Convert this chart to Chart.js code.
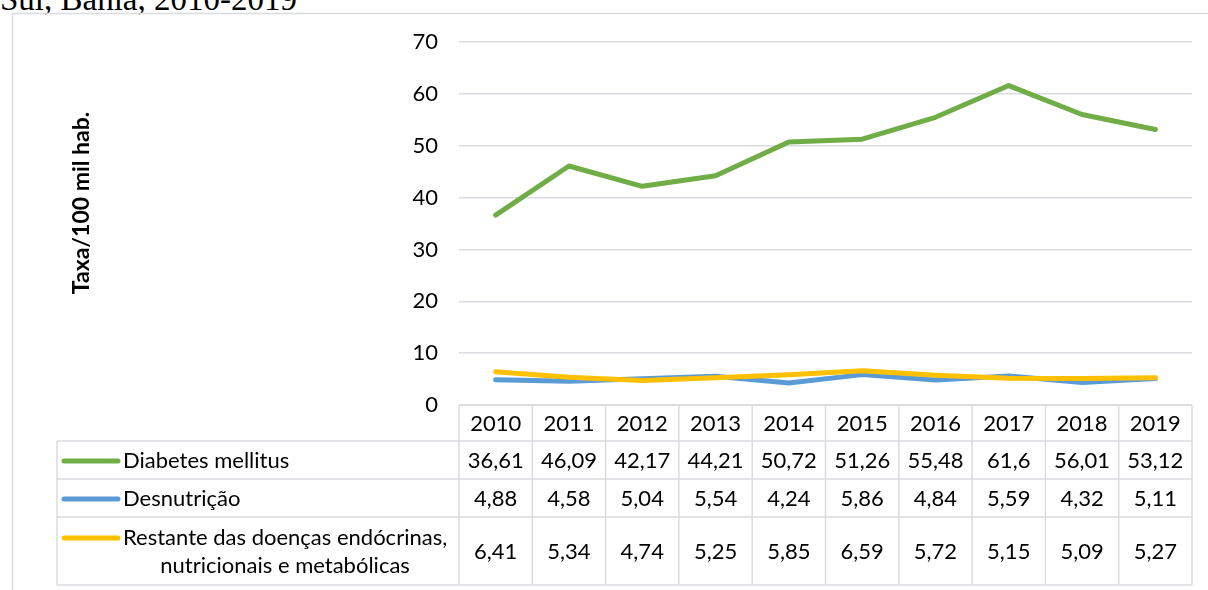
<!DOCTYPE html>
<html>
<head>
<meta charset="utf-8">
<script src="https://cdn.jsdelivr.net/npm/chart.js@4/dist/chart.umd.min.js"></script>
<style>
  html,body{margin:0;padding:0;background:#fff;overflow:hidden}
  #wrap{position:relative;width:1208px;height:590px}
  #topTitle{position:absolute;left:0;top:-17px;font:33px "Liberation Serif",serif;color:#000;white-space:nowrap;line-height:33px}
  canvas{position:absolute;left:0;top:0}
</style>
</head>
<body>
<div id="wrap">
  <div id="topTitle">Sul, Bahia, 2010-2019</div>
  <canvas id="chart" width="1208" height="590"></canvas>
</div>
<script>
const years = ['2010','2011','2012','2013','2014','2015','2016','2017','2018','2019'];
const diabetes = [36.61,46.09,42.17,44.21,50.72,51.26,55.48,61.6,56.01,53.12];
const desnutricao = [4.88,4.58,5.04,5.54,4.24,5.86,4.84,5.59,4.32,5.11];
const restante = [6.41,5.34,4.74,5.25,5.85,6.59,5.72,5.15,5.09,5.27];
const seriesNames = ['Diabetes mellitus','Desnutrição',['Restante das doenças endócrinas,','nutricionais e metabólicas']];
const seriesColors = ['#70ad47','#5b9bd5','#ffc000'];
const yMin = 0, yMax = 70, yStep = 10;
const yTitle = 'Taxa/100 mil hab.';

const FONT = 'Lato, "Open Sans", sans-serif';
const gridColor = '#d9dce1';

// frame, y title and data table under the plot (columns from the x scale)
const tablePlugin = {
  id:'dataTable',
  beforeDraw(chart){
    const c = chart.ctx;
    c.save();
    c.strokeStyle = gridColor;
    c.lineWidth = 1.5;
    c.strokeRect(12.5,13.5,1300,700);
    c.translate(82, 203);
    c.rotate(-Math.PI/2);
    c.fillStyle = '#000';
    c.font = 'bold 23px ' + FONT;
    c.textAlign = 'center';
    c.textBaseline = 'middle';
    c.fillText(yTitle, 0, 0);
    c.restore();
  },
  afterDraw(chart){
    const c = chart.ctx, x = chart.scales.x, area = chart.chartArea;
    const colW = x.width / years.length;
    const left = x.left, right = x.right, labelLeft = 57;
    const rows = [area.bottom, 441, 479, 517, 585];
    c.save();
    c.strokeStyle = gridColor;
    c.lineWidth = 1.5;
    c.beginPath();
    c.moveTo(left, rows[0]); c.lineTo(right, rows[0]);
    for(let r=1;r<rows.length;r++){ c.moveTo(labelLeft, rows[r]); c.lineTo(right, rows[r]); }
    for(let i=0;i<=years.length;i++){
      const px = left + i*colW;
      c.moveTo(px, rows[0]); c.lineTo(px, rows[4]);
    }
    c.moveTo(labelLeft, rows[1]); c.lineTo(labelLeft, rows[4]);
    c.stroke();

    c.fillStyle = '#000';
    c.font = '22px ' + FONT;
    c.textAlign = 'center';
    c.textBaseline = 'middle';
    years.forEach((y,i)=>c.fillText(y, x.getPixelForValue(i), (rows[0]+rows[1])/2+1));
    const data = [diabetes, desnutricao, restante];
    data.forEach((arr,r)=>{
      const cy = (rows[r+1]+rows[r+2])/2+1;
      arr.forEach((v,i)=>c.fillText(String(v).replace('.',','), x.getPixelForValue(i), cy));
      const name = seriesNames[r];
      const ky = Array.isArray(name) ? cy-14 : cy;
      c.strokeStyle = seriesColors[r];
      c.lineWidth = 5;
      c.lineCap = 'round';
      c.beginPath(); c.moveTo(64, ky); c.lineTo(118, ky); c.stroke();
      if(Array.isArray(name)){
        c.textAlign = 'left';
        const w0 = c.measureText(name[0]).width;
        c.fillText(name[0], 123, cy-14);
        c.textAlign = 'center';
        c.fillText(name[1], 123 + w0/2, cy+14);
      } else {
        c.textAlign = 'left';
        c.fillText(name, 123, cy);
        c.textAlign = 'center';
      }
    });
    c.restore();
  }
};

const mk = (label, data, color, order) => ({
  label, data, borderColor: color, backgroundColor: color, borderWidth: 5,
  pointRadius: 0, tension: 0, borderCapStyle: 'round', borderJoinStyle: 'round', order
});

new Chart(document.getElementById('chart'), {
  type: 'line',
  data: {
    labels: years,
    datasets: [
      mk('Diabetes mellitus', diabetes, seriesColors[0], 3),
      mk('Desnutrição', desnutricao, seriesColors[1], 2),
      mk('Restante das doenças endócrinas, nutricionais e metabólicas', restante, seriesColors[2], 1)
    ]
  },
  options: {
    responsive: false,
    animation: false,
    events: [],
    layout: { padding: { left: 68, right: 16, top: 42, bottom: 185 } },
    plugins: { legend: { display: false }, tooltip: { enabled: false } },
    scales: {
      x: { type: 'category', offset: true, display: false },
      y: {
        min: yMin, max: yMax,
        ticks: { stepSize: yStep, color: '#000', font: { size: 22, family: FONT }, padding: 21 },
        grid: { color: gridColor, lineWidth: 1.5, drawTicks: false },
        border: { display: false },
        afterFit(s){ s.width = 459 - 68; }
      }
    }
  },
  plugins: [tablePlugin]
});
</script>
</body>
</html>
